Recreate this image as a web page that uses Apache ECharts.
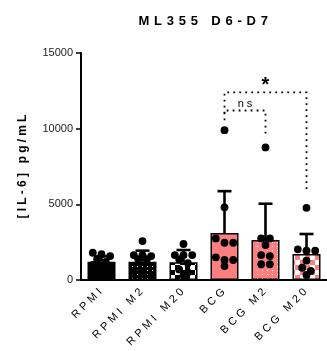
<!DOCTYPE html>
<html>
<head>
<meta charset="utf-8">
<script src="https://cdn.jsdelivr.net/npm/echarts@6/dist/echarts.min.js"></script>
<style>
html,body{margin:0;padding:0;background:#fff;}
#chart{width:327px;height:351px;}
</style>
</head>
<body>
<div id="chart"></div>
<script>
// ---- data ----
const categories = ['RPMI', 'RPMI M2', 'RPMI M20', 'BCG', 'BCG M2', 'BCG M20'];
const means = [1210, 1210, 1170, 3100, 2640, 1720];
const sds = [350, 730, 810, 2770, 2400, 1320];
const points = [
  [1800, 1700, 1580, 1370, 1200, 1000, 900, 700, 600],
  [2570, 1650, 1650, 1580, 1370, 1370, 600, 400, 300],
  [2380, 1650, 1650, 1650, 1370, 1120, 700, 500, 300],
  [9900, 4800, 2750, 2460, 2460, 1500, 1320, 1320, 920],
  [8760, 2750, 2750, 2310, 1650, 1580, 1040, 1040],
  [4770, 2030, 1940, 1940, 1280, 810, 600, 330]
];
const yTicks = [0, 5000, 10000, 15000];
// significance brackets: [fromCat, toCat, level, leftFoot, rightFoot]
const brackets = [
  [3, 4, 11200, 10550, 9580],
  [3, 5, 12400, 11000, 5730]
];
const bracketLabels = ['ns', '*'];

// ---- styles ----
const FONT = "'Liberation Sans', Arial, sans-serif";
const SALMON = '#ff7f7f';

function pattern(kind, base) {
  const c = document.createElement('canvas');
  if (kind === 'dots') {
    c.width = 5; c.height = 4;
    const g = c.getContext('2d');
    g.fillStyle = base; g.fillRect(0, 0, 5, 4);
    g.fillStyle = '#fff'; g.fillRect(2, 2, 1, 1);
  } else {
    c.width = 10; c.height = 10;
    const g = c.getContext('2d');
    g.fillStyle = '#fff'; g.fillRect(0, 0, 10, 10);
    g.fillStyle = base; g.fillRect(0, 0, 5, 5); g.fillRect(5, 5, 5, 5);
  }
  return { image: c, repeat: 'repeat' };
}
const fills = [
  '#000', pattern('dots', '#000'), pattern('check', '#000'),
  SALMON, pattern('dots', SALMON), pattern('check', SALMON)
];

const spaced = (s, key) => s.split('').map(ch => '{' + key + '|' + ch + '}').join('');

const chart = echarts.init(document.getElementById('chart'), null, { renderer: 'canvas' });

const option = {
  animation: false,
  backgroundColor: '#fff',
  title: {
    text: spaced('ML355 D6-D7', 't'),
    left: 131, top: 10,
    textStyle: {
      rich: { t: { fontFamily: FONT, fontWeight: 'bold', fontSize: 13, color: '#000', padding: [0, 2.4] } }
    }
  },
  grid: { left: 81, top: 53, width: 248, bottom: 71, containLabel: false },
  xAxis: {
    type: 'category',
    data: categories,
    axisLine: { lineStyle: { color: '#000', width: 2 } },
    axisTick: { alignWithLabel: true, length: 5, lineStyle: { color: '#000', width: 1.5 } },
    axisLabel: {
      interval: 0, rotate: 45, margin: 9,
      formatter: v => spaced(v, 'l'),
      rich: { l: { fontFamily: FONT, fontSize: 11, color: '#000', padding: [0, 1.7] } }
    }
  },
  yAxis: {
    type: 'value', min: yTicks[0], max: yTicks[yTicks.length - 1], interval: yTicks[1] - yTicks[0],
    name: spaced('[IL-6] pg/mL', 'n'),
    nameLocation: 'middle', nameGap: 52,
    nameTextStyle: {
      rich: { n: { fontFamily: FONT, fontWeight: 'bold', fontSize: 12, color: '#000', padding: [0, 1.6] } }
    },
    splitLine: { show: false },
    axisLine: { show: true, lineStyle: { color: '#000', width: 2 } },
    axisTick: { show: true, length: 5, lineStyle: { color: '#000', width: 1.5 } },
    axisLabel: { fontFamily: FONT, fontSize: 11, color: '#222', margin: 8, formatter: v => String(v) }
  },
  series: [
    {
      type: 'bar',
      data: means.map((m, i) => ({ value: m, itemStyle: { color: fills[i] } })),
      barWidth: 28,
      itemStyle: { borderColor: '#000', borderWidth: 1.5 },
      z: 2
    },
    {
      type: 'custom',
      data: means.map((m, i) => [i, m, m + sds[i]]),
      encode: { x: 0, y: [1, 2] },
      renderItem: (params, api) => {
        const p0 = api.coord([api.value(0), api.value(1)]);
        const p1 = api.coord([api.value(0), api.value(2)]);
        const hw = 7;
        return {
          type: 'group',
          children: [
            { type: 'line', shape: { x1: p0[0], y1: p0[1], x2: p1[0], y2: p1[1] }, style: { stroke: '#000', lineWidth: 2.6 } },
            { type: 'line', shape: { x1: p1[0] - hw, y1: p1[1], x2: p1[0] + hw, y2: p1[1] }, style: { stroke: '#000', lineWidth: 2.6 } }
          ]
        };
      },
      z: 3
    },
    {
      type: 'custom',
      data: categories.map((c, i) => [i, Math.max(...points[i])]),
      encode: { x: 0, y: 1 },
      renderItem: (params, api) => {
        const i = params.dataIndex;
        const vals = points[i].slice().sort((a, b) => b - a);
        const cx = api.coord([i, 0])[0];
        const s = 8.7, r = 3.9;
        const rows = [];
        vals.forEach(v => {
          const y = api.coord([i, v])[1];
          const last = rows[rows.length - 1];
          if (last && y - last.y0 < 5 && last.pts.length < 3) last.pts.push(y); else rows.push({ y0: y, pts: [y] });
        });
        const children = [];
        rows.forEach(row => {
          const n = row.pts.length;
          row.pts.forEach((y, k) => children.push({
            type: 'circle', shape: { cx: cx + (k - (n - 1) / 2) * s, cy: y, r: r }, style: { fill: '#000' }
          }));
        });
        return { type: 'group', children };
      },
      z: 4
    },
    {
      type: 'custom',
      data: brackets,
      encode: { x: [0, 1], y: [2, 3, 4] },
      clip: false,
      renderItem: (params, api) => {
        const b = brackets[params.dataIndex];
        const a0 = api.coord([b[0], b[3]]);
        const a1 = api.coord([b[0], b[2]]);
        const c1 = api.coord([b[1], b[2]]);
        const c0 = api.coord([b[1], b[4]]);
        const lbl = bracketLabels[params.dataIndex];
        const star = lbl === '*';
        return {
          type: 'group',
          children: [
            { type: 'polyline', shape: { points: [a0, a1, c1, c0] },
              style: { stroke: '#000', lineWidth: 1.8, lineDash: [1.8, 4.2], fill: null } },
            { type: 'text', x: (a1[0] + c1[0]) / 2, y: a1[1] + (star ? 3 : -1),
              style: { text: star ? lbl : spaced(lbl, 's'), fontFamily: FONT, fontSize: star ? 20 : 11,
                fontWeight: star ? 'bold' : 'normal', fill: '#000', align: 'center', verticalAlign: 'bottom',
                rich: { s: { fontFamily: FONT, fontSize: 11, color: '#000', padding: [0, 1.5] } } } }
          ]
        };
      },
      z: 5
    }
  ]
};
chart.setOption(option);
</script>
</body>
</html>
